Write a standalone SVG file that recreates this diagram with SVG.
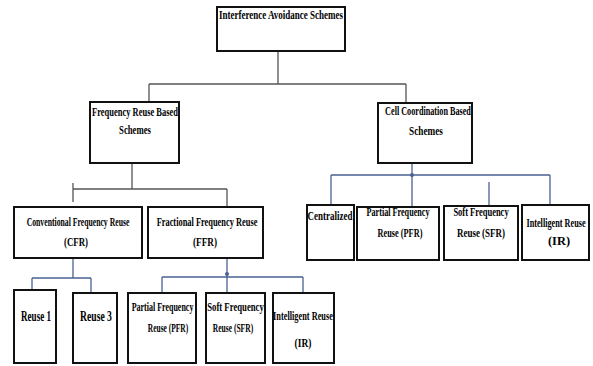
<svg xmlns="http://www.w3.org/2000/svg" width="593" height="366" viewBox="0 0 593 366">
<style>
.box{fill:#fff;stroke:#111;stroke-width:2}
.t{font-family:"Liberation Serif","Times New Roman",serif;font-weight:bold;fill:#000;text-anchor:middle}
.c{fill:none;stroke:#555;stroke-width:1.3}
.b{fill:none;stroke:#4a6290;stroke-width:1.3}
.d{fill:#4a6290}
</style>
<rect width="593" height="366" fill="#fff"/>
<g id="connectors">
<path class="c" d="M278 51V84M149 84H406M149 84V102M406 84V103"/>
<path class="c" d="M132 163V189M73 189H227M73 183V202M227 189V207"/>
<path class="b" d="M412 163V207M331 175H550M331 175V205M550 175V205M489 182V205"/>
<circle class="d" cx="412" cy="175" r="2"/>
<path class="b" d="M73 258V278M32 278H91M32 278V290M91 278V293"/>
<path class="b" d="M227 258V293M162 277H303M162 277V293M303 277V293"/>
<circle class="d" cx="227" cy="274" r="2"/>
</g>
<g id="n-root"><rect class="box" x="217" y="7" width="128" height="44"/><text class="t" transform="translate(281 19) scale(0.65 1)" font-size="12" textLength="191" lengthAdjust="spacingAndGlyphs">Interference Avoidance Schemes</text></g>
<g id="n-frb"><rect class="box" x="90" y="102" width="89" height="61"/><text class="t" transform="translate(135 116) scale(0.65 1)" font-size="12" textLength="132" lengthAdjust="spacingAndGlyphs">Frequency Reuse Based</text><text class="t" transform="translate(135 134) scale(0.65 1)" font-size="12" textLength="49" lengthAdjust="spacingAndGlyphs">Schemes</text></g>
<g id="n-ccb"><rect class="box" x="378" y="103" width="94" height="60"/><text class="t" transform="translate(428 115) scale(0.65 1)" font-size="12" textLength="132" lengthAdjust="spacingAndGlyphs">Cell Coordination Based</text><text class="t" transform="translate(426 135) scale(0.65 1)" font-size="12" textLength="52" lengthAdjust="spacingAndGlyphs">Schemes</text></g>
<g id="n-cfr"><rect class="box" x="14" y="207" width="128" height="51"/><text class="t" transform="translate(78 226) scale(0.65 1)" font-size="12" textLength="158" lengthAdjust="spacingAndGlyphs">Conventional Frequency Reuse</text><text class="t" transform="translate(76 246) scale(0.65 1)" font-size="12" textLength="37" lengthAdjust="spacingAndGlyphs">(CFR)</text></g>
<g id="n-ffr"><rect class="box" x="148" y="207" width="115" height="51"/><text class="t" transform="translate(207 226) scale(0.65 1)" font-size="12" textLength="155" lengthAdjust="spacingAndGlyphs">Fractional Frequency Reuse</text><text class="t" transform="translate(205 246) scale(0.65 1)" font-size="12" textLength="37" lengthAdjust="spacingAndGlyphs">(FFR)</text></g>
<g id="n-central"><rect class="box" x="307" y="205" width="47" height="55"/><text class="t" transform="translate(330 220) scale(0.65 1)" font-size="12" textLength="69" lengthAdjust="spacingAndGlyphs">Centralized</text></g>
<g id="n-pfr2"><rect class="box" x="357" y="207" width="82" height="53"/><text class="t" transform="translate(398 216) scale(0.65 1)" font-size="12" textLength="97" lengthAdjust="spacingAndGlyphs">Partial Frequency</text><text class="t" transform="translate(400 237) scale(0.65 1)" font-size="12" textLength="69" lengthAdjust="spacingAndGlyphs">Reuse (PFR)</text></g>
<g id="n-sfr2"><rect class="box" x="444" y="206" width="74" height="54"/><text class="t" transform="translate(481 216) scale(0.65 1)" font-size="12" textLength="85" lengthAdjust="spacingAndGlyphs">Soft Frequency</text><text class="t" transform="translate(481 237) scale(0.65 1)" font-size="12" textLength="74" lengthAdjust="spacingAndGlyphs">Reuse (SFR)</text></g>
<g id="n-ir2"><rect class="box" x="522" y="205" width="67" height="55"/><text class="t" transform="translate(556 227) scale(0.65 1)" font-size="12" textLength="91" lengthAdjust="spacingAndGlyphs">Intelligent Reuse</text><text class="t" transform="translate(559 245) scale(0.65 1)" font-size="12" textLength="34" lengthAdjust="spacingAndGlyphs">(IR)</text></g>
<g id="n-r1"><rect class="box" x="14" y="290" width="42" height="73"/><text class="t" transform="translate(36 321) scale(0.65 1)" font-size="14" textLength="46" lengthAdjust="spacingAndGlyphs">Reuse 1</text></g>
<g id="n-r3"><rect class="box" x="73" y="293" width="44" height="70"/><text class="t" transform="translate(96 321) scale(0.65 1)" font-size="14" textLength="49" lengthAdjust="spacingAndGlyphs">Reuse 3</text></g>
<g id="n-pfr"><rect class="box" x="128" y="293" width="68" height="70"/><text class="t" transform="translate(162.5 311) scale(0.65 1)" font-size="13" textLength="95" lengthAdjust="spacingAndGlyphs">Partial Frequency</text><text class="t" transform="translate(168 332) scale(0.65 1)" font-size="13" textLength="62" lengthAdjust="spacingAndGlyphs">Reuse (PFR)</text></g>
<g id="n-sfr"><rect class="box" x="206" y="293" width="59" height="70"/><text class="t" transform="translate(235.5 311) scale(0.65 1)" font-size="13" textLength="87" lengthAdjust="spacingAndGlyphs">Soft Frequency</text><text class="t" transform="translate(233 332) scale(0.65 1)" font-size="13" textLength="62" lengthAdjust="spacingAndGlyphs">Reuse (SFR)</text></g>
<g id="n-ir"><rect class="box" x="273" y="293" width="61" height="70"/><text class="t" transform="translate(303 320) scale(0.65 1)" font-size="13" textLength="92" lengthAdjust="spacingAndGlyphs">Intelligent Reuse</text><text class="t" transform="translate(303 347) scale(0.65 1)" font-size="13" textLength="26" lengthAdjust="spacingAndGlyphs">(IR)</text></g>
</svg>
